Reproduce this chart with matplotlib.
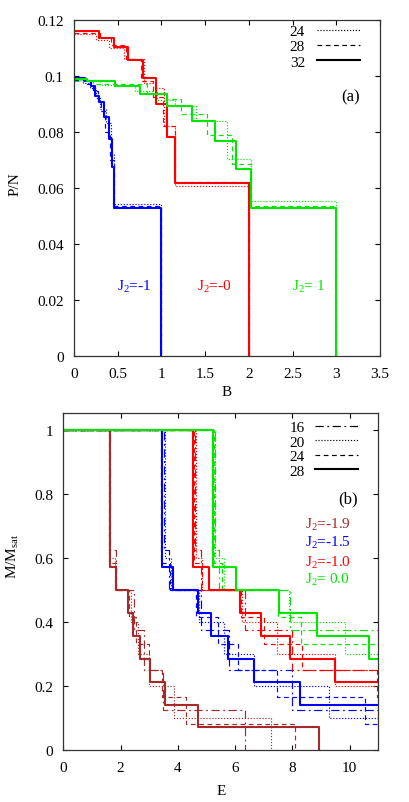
import matplotlib
matplotlib.use('Agg')
import matplotlib.pyplot as plt
from matplotlib.ticker import FormatStrFormatter

plt.rcParams['font.family'] = ['Liberation Serif', 'DejaVu Serif']
plt.rcParams['mathtext.default'] = 'regular'
plt.rcParams['font.size'] = 11

BLUE = '#0000ff'
RED = '#ff0000'
GREEN = '#00e600'
BROWN = '#a52a2a'

# ---- panel (a): P/N vs B, step curves (start of each plateau, level) ----
blue32_B = [0, 0.126, 0.19, 0.24, 0.28, 0.34, 0.40, 0.43, 0.459, 1.0]
blue32_P = [0.0991, 0.0982, 0.0962, 0.0929, 0.0905, 0.0851, 0.0774, 0.0673, 0.0526, 0]
blue28_B = [0, 0.14, 0.22, 0.27, 0.31, 0.36, 0.41, 0.46, 1.0]
blue28_P = [0.0985, 0.0970, 0.0945, 0.0915, 0.0875, 0.0800, 0.0700, 0.0536, 0]
blue24_B = [0, 0.10, 0.18, 0.25, 0.30, 0.37, 0.42, 0.46, 1.0]
blue24_P = [0.0988, 0.0975, 0.0955, 0.0920, 0.0880, 0.0830, 0.0720, 0.0541, 0]

red32_B = [0, 0.29, 0.46, 0.62, 0.79, 0.94, 1.06, 1.16, 2.0]
red32_P = [0.1159, 0.1136, 0.1104, 0.1056, 0.0991, 0.0899, 0.0780, 0.0616, 0]
red28_B = [0, 0.30, 0.42, 0.60, 0.77, 0.90, 1.02, 1.16, 2.0]
red28_P = [0.1154, 0.1140, 0.1110, 0.1060, 0.0980, 0.0925, 0.0820, 0.0621, 0]
red24_B = [0, 0.25, 0.40, 0.57, 0.80, 0.93, 1.03, 1.16, 2.0]
red24_P = [0.1150, 0.1128, 0.1100, 0.1060, 0.0975, 0.0955, 0.0820, 0.0605, 0]

green32_B = [0, 0.145, 0.47, 0.76, 1.06, 1.35, 1.61, 1.85, 2.02, 3.0]
green32_P = [0.0988, 0.0981, 0.0964, 0.0935, 0.0893, 0.0839, 0.0766, 0.0667, 0.0527, 0]
green28_B = [0, 0.22, 0.84, 1.05, 1.22, 1.52, 1.81, 2.03, 3.0]
green28_P = [0.0982, 0.0970, 0.0935, 0.0917, 0.0863, 0.0788, 0.0685, 0.0533, 0]
green24_B = [0, 0.30, 0.70, 0.95, 1.15, 1.40, 1.75, 2.03, 3.0]
green24_P = [0.0985, 0.0968, 0.0945, 0.0912, 0.0893, 0.0838, 0.0702, 0.0551, 0]

# ---- panel (b): M/Msat vs E ----
brown28_E = [0, 1.62, 1.83, 2.26, 2.43, 2.69, 3.01, 3.56, 4.69, 8.94]
brown28_M = [1, 4/7, 1/2, 3/7, 5/14, 2/7, 3/14, 1/7, 1/14, 0]
brown24_E = [0, 1.60, 1.85, 2.30, 2.55, 3.00, 3.45, 4.28, 8.10]
brown24_M = [1, 7/12, 1/2, 5/12, 1/3, 1/4, 1/6, 1/12, 0]
brown20_E = [0, 1.58, 1.80, 2.35, 2.60, 3.00, 3.88, 7.24]
brown20_M = [1, 0.6, 0.5, 0.4, 0.3, 0.2, 0.1, 0]
brown16_E = [0, 1.62, 1.85, 2.45, 2.80, 3.48, 6.34]
brown16_M = [1, 0.625, 0.5, 0.375, 0.25, 0.125, 0]

blue28_E = [0, 3.44, 3.84, 4.69, 5.15, 5.76, 6.66, 8.25]
blue28_M = [1, 4/7, 1/2, 3/7, 5/14, 2/7, 3/14, 1/7]
blue24_E = [0, 3.40, 3.72, 4.62, 5.40, 6.10, 7.46, 10.55]
blue24_M = [1, 7/12, 1/2, 5/12, 1/3, 1/4, 1/6, 1/12]
blue20_E = [0, 3.55, 3.75, 4.75, 5.60, 6.66, 9.26]
blue20_M = [1, 0.6, 0.5, 0.4, 0.3, 0.2, 0.1]
blue16_E = [0, 3.50, 3.70, 4.80, 5.79, 7.98]
blue16_M = [1, 0.625, 0.5, 0.375, 0.25, 0.125]

red28_E = [0, 4.51, 5.07, 6.16, 6.91, 7.93, 9.47]
red28_M = [1, 4/7, 1/2, 3/7, 5/14, 2/7, 3/14]
red24_E = [0, 4.55, 4.85, 6.20, 7.00, 8.35, 10.95]
red24_M = [1, 7/12, 1/2, 5/12, 1/3, 1/4, 1/6]
red20_E = [0, 4.62, 4.85, 6.25, 7.45, 9.50]
red20_M = [1, 0.6, 0.5, 0.4, 0.3, 0.2]
red16_E = [0, 4.58, 4.80, 6.35, 7.98]
red16_M = [1, 0.625, 0.5, 0.375, 0.25]

green28_E = [0, 5.23, 6.02, 7.52, 8.85, 10.68]
green28_M = [1, 4/7, 1/2, 3/7, 5/14, 2/7]
green24_E = [0, 5.25, 5.55, 7.50, 8.30, 9.90]
green24_M = [1, 7/12, 1/2, 5/12, 1/3, 1/3]
green20_E = [0, 5.30, 5.60, 7.87, 9.84]
green20_M = [1, 0.6, 0.5, 0.4, 0.3]
green16_E = [0, 5.28, 5.45, 7.90]
green16_M = [1, 0.625, 0.5, 0.375]

DOT = (0, (1, 1.5))
DASH = (0, (4, 3))
DASHDOT = (0, (7, 3, 1.5, 3))


def stair(ax, xs, ys, xmax, color, ls, lw):
    # extend last plateau to the right edge unless the curve has dropped to 0
    xend = xs[-1] if ys[-1] == 0 else xmax
    return ax.step(list(xs) + [xend], list(ys) + [ys[-1]], where='post',
                   color=color, linestyle=ls, linewidth=lw)


def style_axes(ax):
    ax.tick_params(direction='in', top=True, right=True, length=3.3, width=0.8,
                   labelsize=11)
    ax.tick_params(axis='y', pad=7.5)
    ax.tick_params(axis='x', pad=8)
    for s in ax.spines.values():
        s.set_linewidth(0.9)
        s.set_color('#333333')


fig = plt.figure(figsize=(4.09, 8.03), dpi=100)

# ---------------- panel (a) ----------------
ax1 = fig.add_axes([0.181, 0.556, 0.748, 0.418])
thin = 0.85
thick = 1.5
for xs, ys, c in [(blue24_B, blue24_P, BLUE), (red24_B, red24_P, RED), (green24_B, green24_P, GREEN)]:
    stair(ax1, xs, ys, 3.5, c, DOT, thin)
for xs, ys, c in [(blue28_B, blue28_P, BLUE), (red28_B, red28_P, RED), (green28_B, green28_P, GREEN)]:
    stair(ax1, xs, ys, 3.5, c, DASH, thin)
for xs, ys, c in [(blue32_B, blue32_P, BLUE), (red32_B, red32_P, RED), (green32_B, green32_P, GREEN)]:
    stair(ax1, xs, ys, 3.5, c, '-', thick)

# legend handles (black)
h24, = ax1.plot([], [], color='black', linestyle=DOT, linewidth=thin, label='24')
h28, = ax1.plot([], [], color='black', linestyle=DASH, linewidth=thin, label='28')
h32, = ax1.plot([], [], color='black', linestyle='-', linewidth=thick, label='32')
ax1.legend(handles=[h24, h28, h32], loc='upper right', bbox_to_anchor=(0.935, 0.986),
           frameon=False, markerfirst=False, handlelength=2.8, handletextpad=0.8,
           labelspacing=0.1, borderpad=0, borderaxespad=0, fontsize=11)

ax1.text(3.16, 0.0925, '(a)', ha='center', va='center', fontsize=12)
ax1.text(0.69, 0.025, 'J$_2$=-1', color=BLUE, ha='center', va='center', fontsize=11)
ax1.text(1.61, 0.025, 'J$_2$=-0', color=RED, ha='center', va='center', fontsize=11)
ax1.text(2.68, 0.025, 'J$_2$= 1', color=GREEN, ha='center', va='center', fontsize=11)

ax1.set_xlim(0, 3.5)
ax1.set_ylim(0, 0.12)
ax1.set_xticks([0, 0.5, 1, 1.5, 2, 2.5, 3, 3.5])
ax1.set_yticks([0, 0.02, 0.04, 0.06, 0.08, 0.1, 0.12])
ax1.xaxis.set_major_formatter(FormatStrFormatter('%g'))
ax1.yaxis.set_major_formatter(FormatStrFormatter('%g'))
style_axes(ax1)
ax1.set_xlabel('B', fontsize=11)
ax1.set_ylabel('P/N', fontsize=11)
ax1.xaxis.set_label_coords(0.5, -0.087)
ax1.xaxis.label.set_va('top')
ax1.yaxis.set_label_coords(-0.173, 0.515)

# ---------------- panel (b) ----------------
ax2 = fig.add_axes([0.155, 0.0644, 0.770, 0.420])
groups = [
    (BROWN, [(brown16_E, brown16_M), (brown20_E, brown20_M), (brown24_E, brown24_M), (brown28_E, brown28_M)]),
    (BLUE, [(blue16_E, blue16_M), (blue20_E, blue20_M), (blue24_E, blue24_M), (blue28_E, blue28_M)]),
    (RED, [(red16_E, red16_M), (red20_E, red20_M), (red24_E, red24_M), (red28_E, red28_M)]),
    (GREEN, [(green16_E, green16_M), (green20_E, green20_M), (green24_E, green24_M), (green28_E, green28_M)]),
]
styles = [(DASHDOT, thin), (DOT, thin), (DASH, thin), ('-', thick)]
for ls_i, (ls, lw) in enumerate(styles):
    for color, series in groups:
        xs, ys = series[ls_i]
        stair(ax2, xs, ys, 11, color, ls, lw)

handles = []
for lab, (ls, lw) in zip(['16', '20', '24', '28'], styles):
    h, = ax2.plot([], [], color='black', linestyle=ls, linewidth=lw, label=lab)
    handles.append(h)
ax2.legend(handles=handles, loc='upper right', bbox_to_anchor=(0.936, 0.978),
           frameon=False, markerfirst=False, handlelength=2.8, handletextpad=0.7,
           labelspacing=0.05, borderpad=0, borderaxespad=0, fontsize=11)

ax2.text(9.95, 0.785, '(b)', ha='center', va='center', fontsize=12)
ax2.text(8.45, 0.707, 'J$_2$=-1.9', color=BROWN, ha='left', va='center', fontsize=11)
ax2.text(8.45, 0.652, 'J$_2$=-1.5', color=BLUE, ha='left', va='center', fontsize=11)
ax2.text(8.45, 0.587, 'J$_2$=-1.0', color=RED, ha='left', va='center', fontsize=11)
ax2.text(8.45, 0.535, 'J$_2$= 0.0', color=GREEN, ha='left', va='center', fontsize=11)

ax2.set_xlim(0, 11)
ax2.set_ylim(0, 1.053)
ax2.set_xticks([0, 2, 4, 6, 8, 10])
ax2.set_yticks([0, 0.2, 0.4, 0.6, 0.8, 1])
ax2.xaxis.set_major_formatter(FormatStrFormatter('%g'))
ax2.yaxis.set_major_formatter(FormatStrFormatter('%g'))
style_axes(ax2)
ax2.set_xlabel('E', fontsize=11)
ax2.set_ylabel('M/M$_{sat}$', fontsize=11)
ax2.xaxis.set_label_coords(0.5, -0.1)
ax2.xaxis.label.set_va('top')
ax2.yaxis.set_label_coords(-0.134, 0.579)

fig.savefig('out.png', dpi=100)
